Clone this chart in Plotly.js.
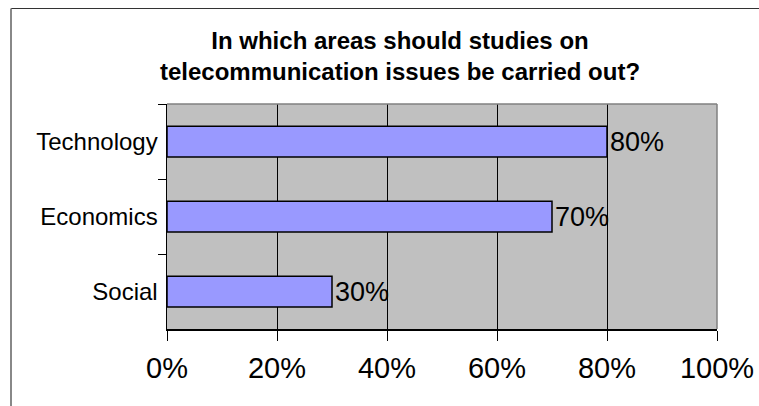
<!DOCTYPE html>
<html>
<head>
<meta charset="utf-8">
<script src="https://cdn.plot.ly/plotly-3.0.1.min.js"></script>
<style>
  html, body { margin: 0; padding: 0; background: #ffffff; overflow: hidden; }
  #chart { width: 759px; height: 406px; }
</style>
</head>
<body>
<div id="chart"></div>
<script>
const titleText = "<b>In which areas should studies on<br>telecommunication issues be carried out?</b>";
const categories = ["Technology", "Economics", "Social"];
const shares = [0.80, 0.70, 0.30];
const xTickValues = [0, 0.2, 0.4, 0.6, 0.8, 1.0];
const xTickLabels = ["0%", "20%", "40%", "60%", "80%", "100%"];

const W = 759, H = 406;
const M = { l: 167, r: 42, t: 104, b: 77 };
const pw = W - M.l - M.r, ph = H - M.t - M.b;
const px = v => (v - M.l) / pw;          // pixel x -> paper x
const py = v => (H - M.b - v) / ph;      // pixel y -> paper y

const FONT = "Liberation Sans, Arial, sans-serif";

const trace = {
  type: "bar",
  orientation: "h",
  y: categories,
  x: shares,
  marker: { color: "#9999FF", line: { color: "#000000", width: 1.5 } },
  text: shares.map(v => Math.round(v * 100) + "%"),
  textposition: "outside",
  textfont: { family: FONT, size: 27, color: "#000000" },
  cliponaxis: false,
  hoverinfo: "skip"
};

const layout = {
  width: W, height: H,
  margin: M,
  paper_bgcolor: "#ffffff",
  plot_bgcolor: "#C0C0C0",
  showlegend: false,
  bargap: 0.59,
  font: { family: FONT, color: "#000000" },
  title: {
    text: titleText,
    font: { family: FONT, size: 24, color: "#000000" },
    xref: "container", x: 400 / W, xanchor: "center",
    yref: "container", y: 1 - 49 / H, yanchor: "top"
  },
  xaxis: {
    range: [0, 1],
    tickvals: xTickValues,
    ticktext: xTickLabels,
    showgrid: true, gridcolor: "#000000", gridwidth: 1,
    zeroline: false,
    showline: true, linecolor: "#000000", linewidth: 1.5,
    ticks: "outside", ticklen: 10, tickcolor: "#000000", tickwidth: 1,
    ticklabelstandoff: 3,
    tickfont: { family: FONT, size: 29, color: "#000000" },
    fixedrange: true
  },
  yaxis: {
    autorange: "reversed",
    type: "category",
    showgrid: false,
    zeroline: false,
    showline: true, linecolor: "#000000", linewidth: 1.5,
    ticks: "outside", tickson: "boundaries", ticklen: 8, tickcolor: "#000000", tickwidth: 1,
    ticklabelstandoff: 3,
    tickfont: { family: FONT, size: 24, color: "#000000" },
    fixedrange: true
  },
  shapes: [
    { type: "line", xref: "paper", yref: "paper", x0: 0, x1: 1, y0: 1, y1: 1,
      line: { color: "#808080", width: 1.5 }, layer: "above" },
    { type: "line", xref: "paper", yref: "paper", x0: 1, x1: 1, y0: 0, y1: 1,
      line: { color: "#808080", width: 1.5 }, layer: "above" },
    { type: "line", xref: "paper", yref: "paper", x0: px(11), x1: px(W + 5), y0: py(8.5), y1: py(8.5),
      line: { color: "#333333", width: 1 }, layer: "above" },
    { type: "line", xref: "paper", yref: "paper", x0: px(11), x1: px(11), y0: py(8.5), y1: py(H + 5),
      line: { color: "#888888", width: 2 }, layer: "above" }
  ]
};

Plotly.newPlot("chart", [trace], layout, { staticPlot: true, displayModeBar: false });
</script>
</body>
</html>
